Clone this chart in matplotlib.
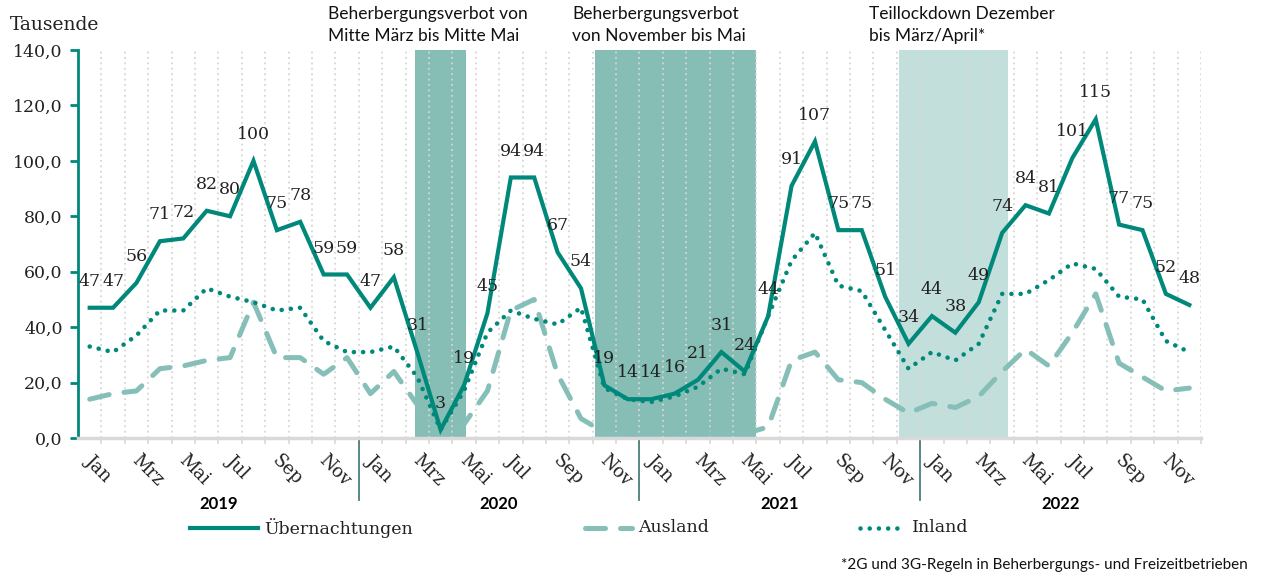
import matplotlib
matplotlib.use("Agg")
import matplotlib.pyplot as plt
from matplotlib.lines import Line2D
from matplotlib.ticker import FixedLocator, FuncFormatter

# Daten (Tausende), Jan 2019 - Dez 2022
monate = ["Jan", "Feb", "Mrz", "Apr", "Mai", "Jun", "Jul", "Aug", "Sep", "Okt", "Nov", "Dez"]
jahre = ["2019", "2020", "2021", "2022"]

uebernachtungen = [47, 47, 56, 71, 72, 82, 80, 100, 75, 78, 59, 59,
                   47, 58, 31, 3, 19, 45, 94, 94, 67, 54, 19, 14,
                   14, 16, 21, 31, 24, 44, 91, 107, 75, 75, 51, 34,
                   44, 38, 49, 74, 84, 81, 101, 115, 77, 75, 52, 48]
inland = [33, 31, 37, 46, 46, 54, 51, 49, 46, 47, 35, 31,
          31, 33, 22, 3, 17, 38, 46, 43, 41, 47, 18, 14,
          13, 15, 18.5, 25, 23, 44, 64, 74, 55, 53, 39, 25,
          31, 28, 34, 52, 52, 57, 63, 61, 51, 50, 35, 31]
ausland = [14, 16, 17, 25, 26, 28, 29, 49, 29, 29, 23, 29,
           16, 24, 12, 0.5, 5, 17, 46, 50, 23, 7, 2, 0.3,
           0.3, 0.5, 1, 2, 1.5, 4, 28, 31, 21, 20, 14, 9,
           12.5, 11, 15, 24, 32, 26, 38, 52, 27, 22, 17, 18]

# Lockdown-Phasen (Monatsindex von/bis)
phasen = [(13.9, 16.1), (21.6, 28.5), (34.6, 39.25)]
phasen_farben = ["#86BDB5", "#86BDB5", "#C3DFDB"]
phasen_texte = ["Beherbergungsverbot von\nMitte März bis Mitte Mai",
                "Beherbergungsverbot\nvon November bis Mai",
                "Teillockdown Dezember\nbis März/April*"]
phasen_text_x = [328, 572, 869]

TEAL = "#00897B"
HELL = "#86BFB7"
SERIF = "DejaVu Serif"
SANS = "Lato"

n = len(uebernachtungen)
x = list(range(n))

fig = plt.figure(figsize=(12.61, 5.77), dpi=100)
ax = fig.add_axes([78 / 1261, 1 - 438 / 577, (1201 - 78) / 1261, (438 - 50) / 577])

for (a, b), c in zip(phasen, phasen_farben):
    ax.axvspan(a, b, ymin=0, ymax=1, color=c, lw=0, zorder=0.2)

ax.plot(x, ausland, color=HELL, lw=3.6, dashes=(4, 3), dash_capstyle="round", zorder=2)
ax.plot(x, inland, color=TEAL, lw=3.3, dashes=(0.01, 2.0), dash_capstyle="round", zorder=3)
ax.plot(x, uebernachtungen, color=TEAL, lw=3.0, solid_joinstyle="miter", zorder=4)

for xi, v in zip(x, uebernachtungen):
    ax.annotate(f"{v:.0f}", (xi, v), xytext=(0, 19), textcoords="offset points",
                ha="center", va="center", fontsize=12.5, family=SERIF, color="#222222", zorder=5)

ax.set_xlim(-0.5, n - 0.5)
ax.set_ylim(0, 140)

# y-Achse
ax.set_yticks(range(0, 141, 20))
ax.yaxis.set_major_formatter(FuncFormatter(lambda v, p: f"{v:.1f}".replace(".", ",")))
ax.tick_params(axis="y", length=6, width=2, color=TEAL, labelsize=12.5, pad=5)
for lab in ax.get_yticklabels():
    lab.set_family(SERIF)
    lab.set_color("#222222")
ax.spines["left"].set_color(TEAL)
ax.spines["left"].set_linewidth(2)
ax.spines["top"].set_visible(False)
ax.spines["right"].set_visible(False)
ax.spines["bottom"].set_color("#D9D9D9")
ax.spines["bottom"].set_linewidth(2.5)

# x-Achse: Gitter an Kategoriegrenzen, Beschriftung jeden 2. Monat
ax.xaxis.set_minor_locator(FixedLocator([k + 0.5 for k in range(n)]))
ax.set_xticks(x)
ax.set_xticklabels([])
ax.tick_params(axis="x", which="major", length=0)
ax.tick_params(axis="x", which="minor", length=4, width=1.2, color="#D9D9D9")
ax.grid(axis="x", which="minor", color="#D6D6D6", lw=1.3, ls=(0, (1, 2)))
ax.set_axisbelow(True)

for xi in x:
    if xi % 2 == 0:
        ax.text(xi + 0.2, -0.035, monate[xi % 12], transform=ax.get_xaxis_transform(),
                rotation=-45, rotation_mode="anchor", ha="left", va="top",
                fontsize=13, family=SERIF, color="#222222")

for j, jahr in enumerate(jahre):
    ax.text(j * 12 + 5.5, -0.17, jahr, transform=ax.get_xaxis_transform(),
            ha="center", va="center", fontsize=12, family=SANS, weight="bold")
    if j > 0:
        ax.plot([j * 12 - 0.5] * 2, [0, -0.16], transform=ax.get_xaxis_transform(),
                color="#4A7F78", lw=1.3, clip_on=False)

# Texte
fig.text(10 / 1261, 1 - 25 / 577, "Tausende", ha="left", va="center",
         fontsize=13.5, family=SERIF, color="#222222")
for t, px in zip(phasen_texte, phasen_text_x):
    fig.text(px / 1261, 1 - 6 / 577, t, ha="left", va="top", fontsize=12.5,
             family=SANS, linespacing=1.45, color="#111111")
fig.text(1248 / 1261, 1 - 565 / 577, "*2G und 3G-Regeln in Beherbergungs- und Freizeitbetrieben",
         ha="right", va="center", fontsize=11, family=SANS, color="#111111")

# Legende
ly = 1 - 528 / 577
leg = [(190, 258, "Übernachtungen", dict(color=TEAL, lw=3.0)),
       (585, 632, "Ausland", dict(color=HELL, lw=3.6, dashes=(4, 3), dash_capstyle="round")),
       (860, 906, "Inland", dict(color=TEAL, lw=3.3, dashes=(0.01, 2.0), dash_capstyle="round"))]
for x0, x1, name, kw in leg:
    fig.add_artist(Line2D([x0 / 1261, x1 / 1261], [ly, ly], transform=fig.transFigure, **kw))
    fig.text((x1 + 6) / 1261, ly, name, ha="left", va="center", fontsize=12.5,
             family=SERIF, color="#222222")

fig.savefig("out.png", dpi=100)
